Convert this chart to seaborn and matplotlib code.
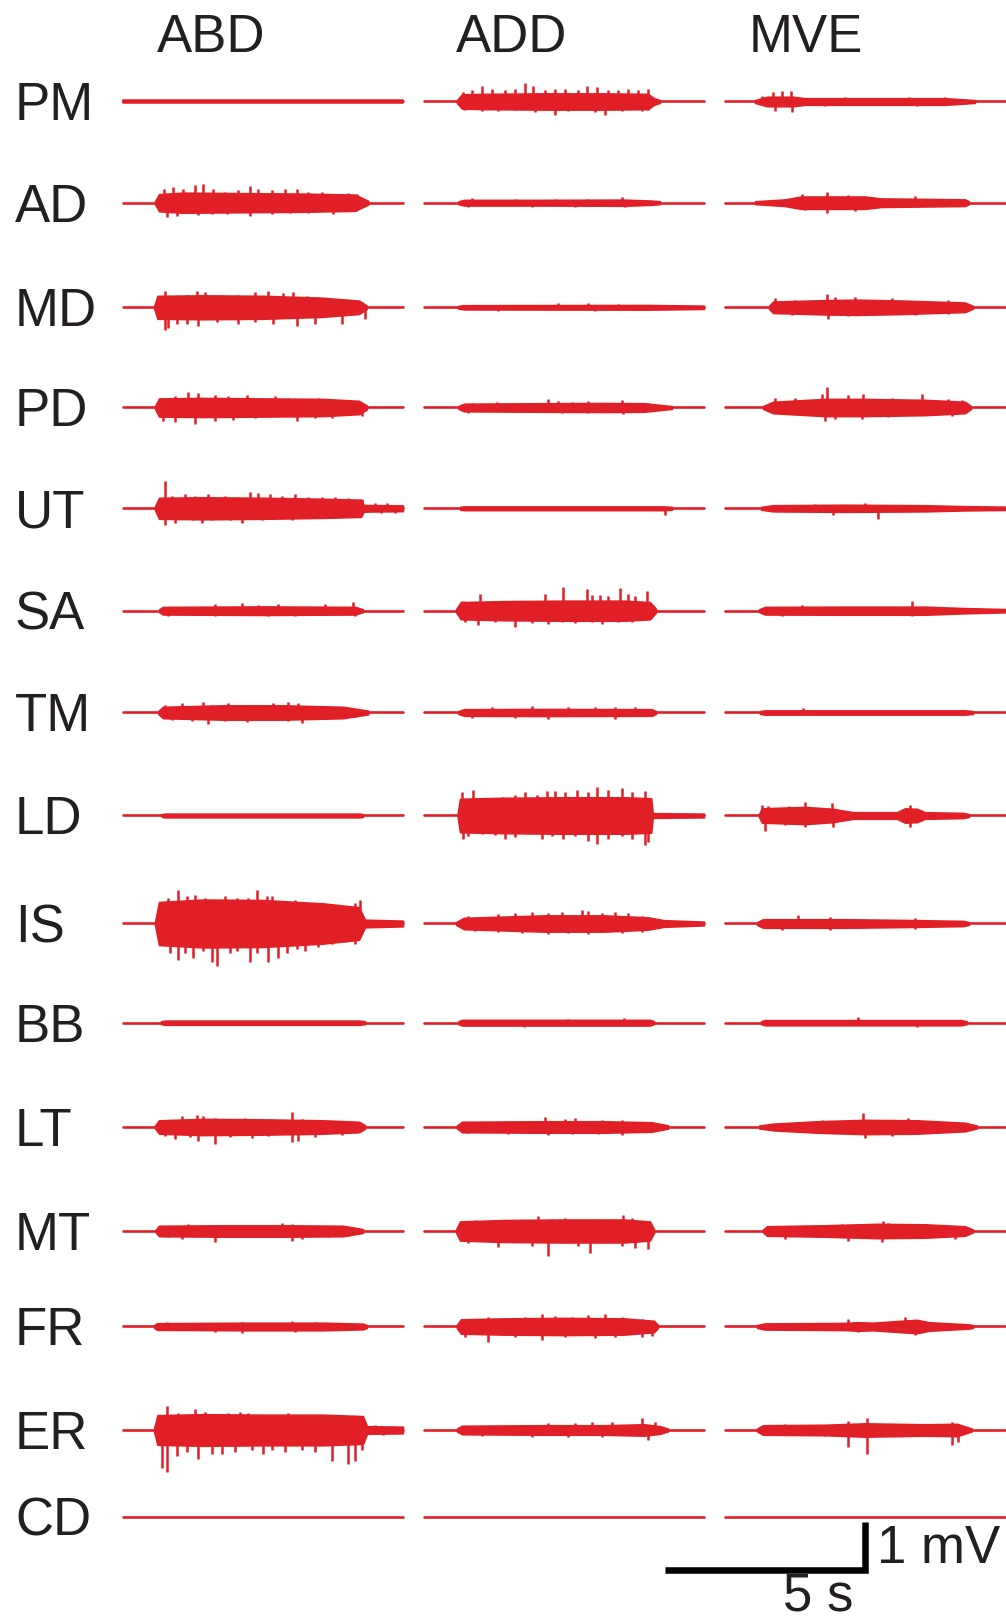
import numpy as np
import pandas as pd
import matplotlib
matplotlib.use("Agg")
import matplotlib.pyplot as plt
import seaborn as sns

# ---------------------------------------------------------------------------
# EMG recordings: 15 shoulder muscles x 3 tasks, each trace 7 s long
# ---------------------------------------------------------------------------
muscles = ["PM", "AD", "MD", "PD", "UT", "SA", "TM", "LD",
           "IS", "BB", "LT", "MT", "FR", "ER", "CD"]
tasks = ["ABD", "ADD", "MVE"]
trace_len_s = 7.0

# Dense core of each burst: (time s, half-amplitude mV), one list per task
core = {
    "PM": [[(0.0, 0.03), (7.0, 0.03)],
           [(0.82, 0.03), (0.95, 0.15), (1.5, 0.16), (3.0, 0.17), (4.5, 0.17), (5.6, 0.16), (5.75, 0.07), (5.9, 0.03)],
           [(0.75, 0.03), (1.05, 0.1), (1.7, 0.1), (2.0, 0.07), (4.0, 0.07), (5.5, 0.07), (6.25, 0.03)]],
    "AD": [[(0.8, 0.03), (0.9, 0.18), (1.5, 0.21), (3.0, 0.2), (4.5, 0.19), (5.8, 0.17), (6.13, 0.04)],
           [(0.86, 0.03), (1.0, 0.06), (3.0, 0.06), (5.0, 0.065), (5.69, 0.045), (5.9, 0.03)],
           [(0.75, 0.03), (1.5, 0.07), (1.9, 0.13), (3.5, 0.13), (3.9, 0.09), (6.0, 0.07), (6.1, 0.03)]],
    "MD": [[(0.78, 0.03), (0.86, 0.24), (2.0, 0.25), (3.5, 0.24), (5.0, 0.2), (5.9, 0.14), (6.09, 0.04)],
           [(0.86, 0.03), (1.0, 0.045), (5.6, 0.05), (7.0, 0.035)],
           [(1.1, 0.03), (1.2, 0.12), (2.5, 0.15), (3.3, 0.16), (4.5, 0.14), (6.0, 0.1), (6.2, 0.03)]],
    "PD": [[(0.8, 0.03), (0.9, 0.19), (2.0, 0.2), (3.5, 0.19), (5.0, 0.18), (5.9, 0.14), (6.1, 0.04)],
           [(0.86, 0.03), (1.0, 0.08), (3.0, 0.09), (4.5, 0.095), (5.5, 0.09), (6.2, 0.03)],
           [(0.95, 0.03), (1.2, 0.12), (2.5, 0.18), (3.5, 0.18), (5.0, 0.16), (6.0, 0.12), (6.15, 0.03)]],
    "UT": [[(0.8, 0.04), (0.9, 0.22), (2.0, 0.23), (3.5, 0.22), (5.0, 0.2), (5.95, 0.18), (6.02, 0.07), (7.0, 0.06)],
           [(0.9, 0.03), (1.0, 0.04), (6.0, 0.04), (6.2, 0.03)],
           [(0.9, 0.03), (1.2, 0.065), (3.0, 0.075), (5.0, 0.065), (6.0, 0.045), (7.0, 0.035)]],
    "SA": [[(0.9, 0.03), (1.0, 0.08), (3.5, 0.09), (5.8, 0.08), (6.0, 0.03)],
           [(0.8, 0.03), (0.92, 0.18), (2.0, 0.2), (3.5, 0.21), (5.0, 0.21), (5.65, 0.18), (5.8, 0.04)],
           [(0.85, 0.03), (1.0, 0.08), (3.0, 0.085), (5.0, 0.085), (6.0, 0.055), (7.0, 0.035)]],
    "TM": [[(0.88, 0.03), (1.0, 0.12), (2.5, 0.15), (4.0, 0.15), (5.5, 0.12), (6.13, 0.04)],
           [(0.86, 0.03), (1.0, 0.07), (3.0, 0.075), (5.69, 0.07), (5.8, 0.03)],
           [(0.87, 0.03), (1.0, 0.045), (6.0, 0.045), (6.2, 0.03)]],
    "LD": [[(0.97, 0.03), (1.05, 0.04), (5.9, 0.04), (6.0, 0.03)],
           [(0.84, 0.04), (0.9, 0.35), (2.0, 0.37), (3.5, 0.38), (5.0, 0.38), (5.68, 0.36), (5.72, 0.05), (7.0, 0.04)],
           [(0.85, 0.03), (0.92, 0.15), (2.0, 0.18), (2.7, 0.14), (3.2, 0.07), (4.3, 0.07), (4.5, 0.15),
            (4.8, 0.14), (5.0, 0.07), (5.95, 0.055), (6.1, 0.03)]],
    "IS": [[(0.8, 0.04), (0.9, 0.45), (2.0, 0.5), (3.5, 0.49), (5.0, 0.42), (5.9, 0.34), (6.05, 0.08), (7.0, 0.06)],
           [(0.8, 0.03), (1.0, 0.12), (3.0, 0.17), (4.5, 0.17), (5.6, 0.13), (6.0, 0.07), (7.0, 0.04)],
           [(0.8, 0.03), (0.95, 0.09), (3.0, 0.09), (4.5, 0.075), (5.96, 0.055), (6.1, 0.03)]],
    "BB": [[(0.95, 0.03), (1.05, 0.045), (5.9, 0.045), (6.05, 0.03)],
           [(0.86, 0.03), (0.95, 0.06), (5.65, 0.06), (5.75, 0.03)],
           [(0.9, 0.03), (1.0, 0.055), (5.9, 0.055), (6.05, 0.03)]],
    "LT": [[(0.8, 0.03), (0.9, 0.14), (2.0, 0.17), (3.5, 0.16), (5.0, 0.14), (5.9, 0.11), (6.05, 0.04)],
           [(0.82, 0.03), (0.95, 0.11), (3.0, 0.12), (4.5, 0.12), (5.69, 0.1), (6.1, 0.035)],
           [(0.85, 0.03), (1.2, 0.07), (2.3, 0.12), (3.5, 0.15), (4.8, 0.14), (6.0, 0.09), (6.3, 0.03)]],
    "MT": [[(0.82, 0.03), (0.9, 0.11), (2.5, 0.12), (4.0, 0.12), (5.5, 0.11), (6.0, 0.04)],
           [(0.8, 0.03), (0.9, 0.2), (2.0, 0.23), (3.5, 0.24), (5.0, 0.24), (5.65, 0.2), (5.75, 0.04)],
           [(0.95, 0.03), (1.05, 0.1), (2.5, 0.12), (3.8, 0.15), (5.0, 0.14), (6.0, 0.1), (6.2, 0.03)]],
    "FR": [[(0.78, 0.03), (0.85, 0.07), (3.0, 0.08), (5.0, 0.08), (6.0, 0.06), (6.1, 0.03)],
           [(0.82, 0.03), (0.92, 0.15), (2.0, 0.17), (3.5, 0.18), (5.0, 0.17), (5.75, 0.12), (5.85, 0.03)],
           [(0.8, 0.03), (1.0, 0.065), (3.0, 0.075), (3.3, 0.09), (3.7, 0.08), (4.4, 0.12), (4.8, 0.14),
            (5.1, 0.09), (6.1, 0.045), (6.2, 0.03)]],
    "ER": [[(0.78, 0.05), (0.86, 0.31), (2.0, 0.33), (3.5, 0.32), (5.0, 0.32), (6.0, 0.29), (6.1, 0.08), (7.0, 0.07)],
           [(0.82, 0.03), (0.95, 0.09), (3.0, 0.1), (4.5, 0.1), (5.5, 0.12), (5.9, 0.08), (6.1, 0.03)],
           [(0.8, 0.03), (0.95, 0.1), (2.5, 0.11), (3.5, 0.14), (5.0, 0.12), (5.8, 0.13), (6.17, 0.03)]],
    "CD": [[], [], []],
}

# Upward spikes rising above the core: (time s, peak mV)
peaks = {
    "PM": [[],
           [(0.98, 0.2), (1.19, 0.23), (1.44, 0.33), (1.69, 0.27), (2.03, 0.25), (2.28, 0.27), (2.53, 0.39),
            (2.73, 0.33), (3.03, 0.23), (3.28, 0.27), (3.53, 0.27), (3.86, 0.25), (4.07, 0.33), (4.32, 0.3),
            (4.61, 0.25), (4.86, 0.25), (5.11, 0.27), (5.36, 0.23), (5.61, 0.27)],
           [(0.92, 0.12), (1.21, 0.19), (1.42, 0.21), (1.65, 0.21), (3.0, 0.09), (4.6, 0.1), (5.5, 0.09)]],
    "AD": [[(1.03, 0.28), (1.26, 0.33), (1.51, 0.28), (1.8, 0.37), (2.01, 0.39), (2.26, 0.28), (2.55, 0.23),
            (2.88, 0.26), (3.18, 0.34), (3.38, 0.28), (3.72, 0.26), (4.05, 0.28), (4.34, 0.28), (4.63, 0.23),
            (4.97, 0.23), (5.3, 0.19), (5.63, 0.2), (5.84, 0.19)],
           [(1.19, 0.09), (2.28, 0.08), (3.28, 0.08), (4.11, 0.08), (4.94, 0.11)],
           [(1.92, 0.19), (2.54, 0.23), (3.08, 0.17), (4.75, 0.13)]],
    "MD": [[(1.05, 0.35), (1.26, 0.21), (1.59, 0.26), (1.84, 0.33), (2.05, 0.31), (2.55, 0.21), (2.88, 0.26),
            (3.3, 0.31), (3.63, 0.33), (4.0, 0.29), (4.26, 0.31), (4.59, 0.23), (4.88, 0.21), (5.22, 0.17),
            (5.63, 0.12), (5.97, 0.12)],
           [(3.36, 0.08), (4.11, 0.08), (4.86, 0.07)],
           [(1.25, 0.19), (1.75, 0.15), (2.54, 0.28), (2.75, 0.21), (3.25, 0.21), (4.17, 0.19), (5.58, 0.15)]],
    "PD": [[(1.01, 0.18), (1.3, 0.23), (1.63, 0.33), (1.88, 0.3), (2.3, 0.27), (2.63, 0.23), (3.09, 0.25),
            (3.47, 0.2), (3.8, 0.23), (4.13, 0.2), (4.47, 0.18), (4.88, 0.2), (5.22, 0.16), (5.63, 0.16)],
           [(1.19, 0.09), (1.82, 0.11), (3.11, 0.17), (3.36, 0.14), (3.69, 0.12), (4.11, 0.14), (4.94, 0.15),
            (5.61, 0.09)],
           [(1.25, 0.19), (1.75, 0.19), (2.42, 0.28), (2.54, 0.43), (3.08, 0.25), (3.46, 0.28), (4.17, 0.19),
            (4.92, 0.28), (5.58, 0.17), (5.92, 0.15)]],
    "UT": [[(1.05, 0.57), (1.22, 0.26), (1.55, 0.29), (1.8, 0.26), (2.13, 0.29), (2.55, 0.26), (2.88, 0.23),
            (3.18, 0.33), (3.38, 0.31), (3.68, 0.29), (3.97, 0.26), (4.3, 0.29), (4.63, 0.23), (4.97, 0.23),
            (5.3, 0.23), (5.63, 0.21), (5.97, 0.2), (6.3, 0.1), (6.6, 0.1)],
           [],
           [(2.25, 0.09), (3.5, 0.11)]],
    "SA": [[(2.3, 0.13), (2.97, 0.16), (3.38, 0.11), (3.88, 0.13), (5.05, 0.15), (5.76, 0.18)],
           [(0.98, 0.2), (1.4, 0.35), (1.78, 0.2), (2.07, 0.17), (2.44, 0.21), (2.78, 0.2), (3.03, 0.35),
            (3.48, 0.49), (3.73, 0.21), (4.07, 0.45), (4.19, 0.33), (4.4, 0.33), (4.61, 0.31), (4.9, 0.47),
            (5.11, 0.35), (5.28, 0.31), (5.57, 0.42)],
           [(1.92, 0.11), (4.67, 0.21)]],
    "TM": [[(1.05, 0.16), (1.47, 0.19), (2.01, 0.22), (2.22, 0.16), (2.63, 0.19), (3.13, 0.16), (3.47, 0.16),
            (3.76, 0.2), (4.13, 0.22), (4.38, 0.19), (4.8, 0.13), (5.22, 0.11), (5.63, 0.09)],
           [(1.69, 0.11), (2.69, 0.13), (3.61, 0.12), (4.28, 0.11), (4.78, 0.12), (5.28, 0.11)],
           [(1.96, 0.1)]],
    "LD": [[],
           [(0.94, 0.48), (1.23, 0.53), (1.44, 0.33), (1.73, 0.29), (1.98, 0.38), (2.28, 0.43), (2.53, 0.48),
            (2.82, 0.43), (3.07, 0.51), (3.28, 0.51), (3.53, 0.48), (3.82, 0.53), (4.11, 0.48), (4.32, 0.6),
            (4.61, 0.53), (4.94, 0.57), (5.19, 0.48), (5.53, 0.51)],
           [(0.92, 0.21), (1.08, 0.19), (1.6, 0.2), (2.0, 0.28), (2.67, 0.25), (4.63, 0.21)]],
    "IS": [[(1.13, 0.53), (1.38, 0.7), (1.59, 0.57), (1.8, 0.6), (2.05, 0.53), (2.3, 0.48), (2.55, 0.57),
            (2.84, 0.53), (3.13, 0.53), (3.34, 0.69), (3.59, 0.57), (3.72, 0.57), (3.97, 0.43), (4.3, 0.48),
            (4.8, 0.43), (5.13, 0.35), (5.47, 0.35), (5.8, 0.43), (5.93, 0.48)],
           [(1.11, 0.16), (1.44, 0.13), (1.86, 0.19), (2.28, 0.21), (2.69, 0.23), (3.11, 0.21), (3.44, 0.23),
            (3.94, 0.29), (4.11, 0.26), (4.44, 0.21), (4.78, 0.23), (5.11, 0.21), (5.44, 0.16)],
           [(1.83, 0.17), (2.63, 0.13), (4.75, 0.11)]],
    "BB": [[],
           [(3.6, 0.08), (5.0, 0.1)],
           [(3.33, 0.11)]],
    "LT": [[(1.13, 0.15), (1.47, 0.22), (1.84, 0.25), (2.01, 0.22), (2.3, 0.19), (2.72, 0.17), (3.05, 0.19),
            (3.3, 0.17), (3.72, 0.17), (4.22, 0.32), (4.47, 0.17), (4.97, 0.12), (5.47, 0.12)],
           [(1.28, 0.11), (2.03, 0.13), (3.03, 0.21), (3.53, 0.16), (3.78, 0.19), (4.44, 0.14), (4.94, 0.14),
            (5.44, 0.11)],
           [(2.42, 0.15), (3.46, 0.3), (4.58, 0.19)]],
    "MT": [[(1.05, 0.11), (1.63, 0.14), (2.3, 0.11), (2.8, 0.1), (3.38, 0.12), (3.97, 0.16), (4.22, 0.14),
            (4.8, 0.1), (5.63, 0.09)],
           [(1.03, 0.17), (1.28, 0.22), (1.69, 0.17), (2.11, 0.2), (2.53, 0.22), (2.86, 0.32), (3.19, 0.24),
            (3.53, 0.27), (3.94, 0.22), (4.32, 0.24), (4.69, 0.24), (4.98, 0.33), (5.19, 0.27), (5.53, 0.2)],
           [(2.92, 0.15), (3.96, 0.21), (4.08, 0.17)]],
    "FR": [[(1.09, 0.1), (2.97, 0.1), (4.22, 0.11), (4.8, 0.1)],
           [(1.11, 0.16), (1.61, 0.19), (2.11, 0.16), (2.53, 0.19), (2.94, 0.26), (3.28, 0.21), (3.69, 0.19),
            (4.11, 0.23), (4.53, 0.26), (4.94, 0.19), (5.44, 0.16)],
           [(3.08, 0.15), (4.5, 0.19)]],
    "ER": [[(1.09, 0.5), (1.38, 0.35), (1.8, 0.43), (2.05, 0.37), (2.3, 0.31), (2.63, 0.35), (2.93, 0.37),
            (3.13, 0.35), (3.47, 0.31), (3.8, 0.31), (4.13, 0.35), (4.47, 0.3), (4.8, 0.3), (5.22, 0.31),
            (5.63, 0.3), (5.97, 0.28), (6.3, 0.1), (6.7, 0.09)],
           [(1.44, 0.09), (2.44, 0.11), (3.11, 0.14), (3.78, 0.14), (4.19, 0.16), (4.69, 0.16), (5.44, 0.24),
            (5.78, 0.16)],
           [(1.5, 0.12), (3.08, 0.19), (3.54, 0.26), (5.67, 0.17)]],
    "CD": [[], [], []],
}

# Downward spikes below the core: (time s, depth mV)
troughs = {
    "PM": [[],
           [(1.03, 0.17), (1.44, 0.2), (1.86, 0.2), (2.28, 0.17), (2.78, 0.21), (3.28, 0.29), (3.61, 0.2),
            (4.28, 0.21), (4.53, 0.29), (4.94, 0.2), (5.44, 0.2), (5.61, 0.17)],
           [(1.25, 0.19), (1.67, 0.21), (2.5, 0.1), (4.8, 0.1)]],
    "AD": [[(1.09, 0.3), (1.34, 0.28), (1.88, 0.26), (2.22, 0.23), (2.59, 0.23), (3.18, 0.28), (3.72, 0.23),
            (4.18, 0.21), (4.63, 0.21), (5.26, 0.23), (5.8, 0.17)],
           [(1.11, 0.08), (2.69, 0.08), (3.78, 0.08), (5.03, 0.09)],
           [(2.0, 0.15), (2.54, 0.21), (3.25, 0.17)]],
    "MD": [[(1.05, 0.48), (1.12, 0.44), (1.34, 0.34), (1.59, 0.34), (1.88, 0.39), (2.34, 0.3), (2.88, 0.34),
            (3.3, 0.3), (3.76, 0.34), (4.34, 0.39), (4.8, 0.34), (5.47, 0.34), (6.05, 0.25)],
           [(1.86, 0.07), (4.28, 0.075)],
           [(1.67, 0.17), (2.58, 0.25), (3.08, 0.19), (4.75, 0.17), (5.58, 0.13)]],
    "PD": [[(1.01, 0.29), (1.3, 0.31), (1.8, 0.35), (2.3, 0.29), (2.76, 0.26), (3.3, 0.21), (4.34, 0.29),
            (4.8, 0.21), (5.22, 0.21), (5.97, 0.17)],
           [(1.11, 0.11), (2.28, 0.09), (3.44, 0.11), (4.11, 0.11), (4.98, 0.14)],
           [(2.5, 0.28), (2.75, 0.23), (3.42, 0.25), (4.08, 0.19), (5.67, 0.17)]],
    "UT": [[(1.05, 0.34), (1.3, 0.3), (1.76, 0.25), (1.97, 0.3), (2.22, 0.25), (2.68, 0.25), (2.97, 0.3),
            (3.47, 0.25), (3.8, 0.2), (4.22, 0.25), (4.8, 0.2), (5.3, 0.2), (5.93, 0.18), (6.45, 0.1), (6.8, 0.09)],
           [(6.03, 0.13)],
           [(2.71, 0.13), (3.83, 0.23)]],
    "SA": [[(1.13, 0.1), (2.3, 0.12), (3.63, 0.12), (4.3, 0.11), (5.8, 0.12)],
           [(1.03, 0.23), (1.36, 0.3), (1.78, 0.23), (2.28, 0.33), (2.69, 0.25), (3.11, 0.27), (3.44, 0.23),
            (3.78, 0.25), (4.19, 0.23), (4.44, 0.27), (4.86, 0.23), (5.19, 0.23), (5.53, 0.2)],
           [(1.42, 0.11), (4.67, 0.11)]],
    "TM": [[(1.22, 0.15), (1.72, 0.17), (2.13, 0.24), (2.55, 0.17), (3.09, 0.19), (3.63, 0.15), (4.13, 0.17),
            (4.47, 0.21), (5.13, 0.13), (5.8, 0.09)],
           [(1.19, 0.12), (2.28, 0.12), (3.11, 0.13), (4.78, 0.13)],
           []],
    "LD": [[],
           [(0.98, 0.48), (1.11, 0.43), (1.44, 0.38), (1.78, 0.41), (2.03, 0.48), (2.28, 0.45), (2.61, 0.38),
            (2.94, 0.48), (3.19, 0.43), (3.48, 0.48), (3.78, 0.43), (4.11, 0.53), (4.32, 0.6), (4.61, 0.48),
            (4.94, 0.43), (5.19, 0.48), (5.53, 0.62), (5.61, 0.55)],
           [(1.0, 0.32), (1.5, 0.2), (2.0, 0.25), (2.71, 0.23), (4.63, 0.23)]],
    "IS": [[(1.18, 0.62), (1.38, 0.77), (1.55, 0.62), (1.76, 0.72), (2.01, 0.57), (2.22, 0.81), (2.34, 0.89),
            (2.68, 0.62), (2.84, 0.57), (3.18, 0.81), (3.34, 0.62), (3.63, 0.81), (3.88, 0.72), (4.09, 0.62),
            (4.34, 0.53), (4.55, 0.57), (4.88, 0.48), (5.22, 0.43), (5.55, 0.38), (5.8, 0.43)],
           [(1.28, 0.15), (1.86, 0.17), (2.44, 0.19), (3.11, 0.22), (3.61, 0.19), (4.11, 0.22), (4.44, 0.17),
            (4.94, 0.2), (5.44, 0.17)],
           [(1.42, 0.13), (2.63, 0.13), (4.75, 0.11)]],
    "BB": [[],
           [(2.5, 0.08)],
           [(4.8, 0.08)]],
    "LT": [[(1.05, 0.19), (1.3, 0.26), (1.68, 0.21), (1.88, 0.29), (2.3, 0.35), (2.68, 0.21), (3.22, 0.23),
            (3.63, 0.19), (4.22, 0.31), (4.38, 0.29), (4.8, 0.21), (5.47, 0.16), (5.8, 0.13)],
           [(1.11, 0.12), (2.11, 0.14), (3.11, 0.17), (3.69, 0.14), (4.36, 0.14), (4.94, 0.17), (5.61, 0.1)],
           [(3.5, 0.23), (4.17, 0.19)]],
    "MT": [[(1.13, 0.12), (1.47, 0.17), (2.3, 0.22), (3.05, 0.12), (3.55, 0.12), (4.22, 0.2), (4.47, 0.17),
            (5.13, 0.12), (5.63, 0.1)],
           [(1.11, 0.24), (1.86, 0.33), (2.28, 0.21), (2.69, 0.31), (3.11, 0.53), (3.44, 0.26), (3.86, 0.31),
            (4.15, 0.45), (4.53, 0.26), (4.94, 0.31), (5.28, 0.35), (5.61, 0.37)],
           [(1.5, 0.17), (3.08, 0.21), (3.92, 0.23), (5.75, 0.17)]],
    "FR": [[(2.3, 0.12), (2.97, 0.13), (4.3, 0.12)],
           [(1.03, 0.22), (1.61, 0.32), (2.28, 0.22), (2.94, 0.29), (3.53, 0.22), (4.28, 0.25), (4.78, 0.22),
            (5.44, 0.22), (5.69, 0.19)],
           [(3.33, 0.12), (4.75, 0.17)]],
    "ER": [[(0.97, 0.79), (1.09, 0.87), (1.34, 0.55), (1.59, 0.46), (1.88, 0.6), (2.22, 0.5), (2.47, 0.5),
            (2.8, 0.46), (3.22, 0.41), (3.51, 0.5), (3.72, 0.41), (4.05, 0.46), (4.47, 0.41), (4.8, 0.46),
            (5.22, 0.65), (5.63, 0.7), (5.8, 0.65), (5.97, 0.41), (6.5, 0.1)],
           [(1.44, 0.12), (2.69, 0.14), (3.61, 0.14), (4.44, 0.14), (5.61, 0.2)],
           [(2.5, 0.13), (3.08, 0.36), (3.54, 0.51), (5.67, 0.32), (5.83, 0.26)]],
    "CD": [[], [], []],
}

# ---------------------------------------------------------------------------
# Layout (figure coordinates: x in seconds, y in mV; 40 px/s, 48 px/mV)
# ---------------------------------------------------------------------------
W_PX, H_PX, DPI = 1006, 1618, 100
PX_PER_S, PX_PER_MV = 40.0, 48.0
row_base_px = [101.5, 202.7, 307.3, 407.5, 508.3, 610.7, 712.5, 815.5,
               923.5, 1022.7, 1127.0, 1231.0, 1326.5, 1430.0, 1517.0]
row_y = [-p / PX_PER_MV for p in row_base_px]
col_x0 = [123 / PX_PER_S, 424 / PX_PER_S, 725 / PX_PER_S]
header_dx = [2.2, 2.2, 2.03]

RED = "#E11F26"
INK = "#231F20"

sns.set_style("white")
plt.rcParams["font.family"] = ["Liberation Sans", "DejaVu Sans"]

fig = plt.figure(figsize=(W_PX / DPI, H_PX / DPI), dpi=DPI)
ax = fig.add_axes([0, 0, 1, 1])
ax.set_xlim(0, W_PX / PX_PER_S)
ax.set_ylim(-H_PX / PX_PER_MV, 0)
ax.axis("off")

# baselines of every trace (long-form table, one unit per trace)
rows = []
for i, m in enumerate(muscles):
    for j, task in enumerate(tasks):
        for t in (0.0, trace_len_s):
            rows.append({"x": col_x0[j] + t, "y": row_y[i], "trace": f"{m}-{task}"})
base_df = pd.DataFrame(rows)
sns.lineplot(data=base_df, x="x", y="y", units="trace", estimator=None,
             color=RED, linewidth=1.9, ax=ax, legend=False)

# burst cores and individual spikes
for i, m in enumerate(muscles):
    y0 = row_y[i]
    for j in range(len(tasks)):
        x0 = col_x0[j]
        env = core[m][j]
        if env:
            t = np.array([p[0] for p in env])
            a = np.array([p[1] for p in env])
            ax.fill_between(x0 + t, y0 - a, y0 + a, color=RED,
                            linewidth=1.1, zorder=3)
        up = peaks[m][j]
        if up:
            ax.vlines([x0 + p[0] for p in up], y0, [y0 + p[1] for p in up],
                      color=RED, linewidth=1.8, zorder=3)
        dn = troughs[m][j]
        if dn:
            ax.vlines([x0 + p[0] for p in dn], [y0 - p[1] for p in dn], y0,
                      color=RED, linewidth=1.8, zorder=3)

# labels
FS = 38
cap_half = 18.9 / PX_PER_MV
for i, m in enumerate(muscles):
    ax.text(15 / PX_PER_S, row_y[i] - cap_half, m, fontsize=FS, color=INK,
            ha="left", va="baseline")
for j, task in enumerate(tasks):
    ax.text(col_x0[j] + header_dx[j], -51.7 / PX_PER_MV, task, fontsize=FS,
            color=INK, ha="center", va="baseline")

# scale bar: 5 s x 1 mV
bar_x1 = 864.5 / PX_PER_S
bar_y0 = -1570 / PX_PER_MV
ax.plot([bar_x1 - 5.0, bar_x1, bar_x1], [bar_y0, bar_y0, bar_y0 + 1.0],
        color="black", linewidth=4.7, solid_joinstyle="miter",
        solid_capstyle="butt", zorder=4)
ax.text(876.7 / PX_PER_S, -1563.3 / PX_PER_MV, "1 mV", fontsize=FS,
        color=INK, ha="left", va="baseline")
ax.text(818 / PX_PER_S, -1611 / PX_PER_MV, "5 s", fontsize=FS,
        color=INK, ha="center", va="baseline")

fig.savefig("out.png", dpi=DPI, facecolor="white")
